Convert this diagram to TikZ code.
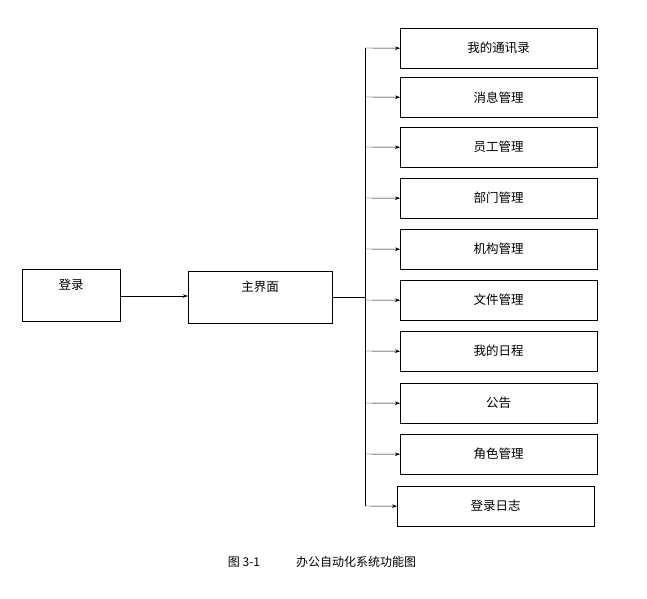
\documentclass[tikz,border=0pt]{standalone}
\usepackage{fontspec}
\setmainfont{Noto Sans CJK SC}
\usetikzlibrary{arrows.meta}
\begin{document}
\begin{tikzpicture}[x=1pt,y=-1pt]
    % box style
    \tikzstyle{box}=[draw, thin, anchor=north west, inner sep=0, font=\fontsize{12.5}{14}\selectfont]
    \tikzstyle{link}=[thin, -{Stealth[length=5pt,width=3.5pt]}]
    \useasboundingbox (0,0) rectangle (647,598);
    \node[box, minimum width=98, minimum height=52] (login) at (22,269) {};
    \node[font=\fontsize{12.5}{14}\selectfont] at ([yshift=-16]login.north) {登录};
    \node[box, minimum width=144, minimum height=52] (main) at (188,271) {};
    \node[font=\fontsize{12.5}{14}\selectfont] at ([yshift=-16]main.north) {主界面};
    \draw[link] (120,296) -- (main.west |- 0,296);
    \coordinate (bus) at (365,297);
    \draw[thin] (main.east |- bus) -- (bus);
    \foreach \name/\top/\lbl in {f0/28/我的通讯录, f1/77/消息管理, f2/127/员工管理, f3/178/部门管理,
        f4/229/机构管理, f5/280/文件管理, f6/331/我的日程, f7/383/公告, f8/434/角色管理}{
        \node[box, minimum width=197, minimum height=40] (\name) at (400,\top) {\lbl};
        \draw[link] (365,\top+20) -- (\name.west);
    }
    \node[box, minimum width=197, minimum height=40] (f9) at (397,486) {登录日志};
    \draw[link] (365,506) -- (f9.west);
    \draw[thin] (365,48) -- (365,506);
    \node[font=\fontsize{12}{14}\selectfont] (cap) at (322,562) {图 3-1\hspace{3em}办公自动化系统功能图};
\end{tikzpicture}
\end{document}
